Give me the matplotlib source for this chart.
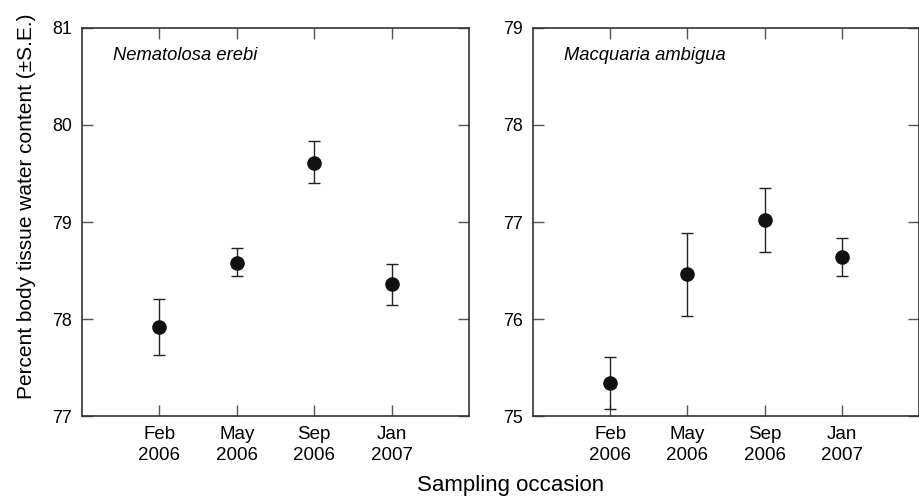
import matplotlib
matplotlib.use("Agg")
import matplotlib.pyplot as plt
import numpy as np

plt.rcParams['font.family'] = ['Liberation Sans', 'DejaVu Sans']

# Datas de amostragem
ocasioes = ["Feb\n2006", "May\n2006", "Sep\n2006", "Jan\n2007"]
posicoes = [1, 2, 3, 4]

# Nematolosa erebi
nem_media = [77.92, 78.58, 79.61, 78.36]
nem_sup = [78.21, 78.73, 79.83, 78.57]
nem_inf = [77.63, 78.44, 79.40, 78.14]

# Macquaria ambigua
mac_media = [75.34, 76.46, 77.02, 76.64]
mac_sup = [75.61, 76.89, 77.35, 76.83]
mac_inf = [75.07, 76.03, 76.69, 76.44]

COR_PONTO = '#111111'
COR_EIXO = '#333333'


def painel(ax, media, inf, sup, ylim, titulo):
    media = np.array(media)
    yerr = [media - np.array(inf), np.array(sup) - media]
    ax.errorbar(posicoes, media, yerr=yerr, fmt='o', color=COR_PONTO,
                ecolor='#222222', elinewidth=1.0, capsize=4.3, capthick=1.0,
                markersize=9.5, zorder=5)
    ax.set_xlim(0, 5)
    ax.set_ylim(*ylim)
    ax.set_yticks(range(ylim[0], ylim[1] + 1))
    ax.set_xticks(posicoes)
    ax.set_xticklabels(ocasioes)
    ax.tick_params(direction='in', length=8, width=1.0, color='#555555',
                   top=True, right=True)
    ax.tick_params(axis='y', labelsize=12.8, pad=7)
    ax.tick_params(axis='x', labelsize=13.5, pad=7)
    for lab in ax.get_xticklabels():
        lab.set_linespacing(1.3)
    for s in ax.spines.values():
        s.set_linewidth(1.2)
        s.set_color(COR_EIXO)
    ax.text(0.08, 0.93, titulo, transform=ax.transAxes, fontsize=13.2,
            style='italic', ha='left', va='center')


fig = plt.figure(figsize=(9.2, 4.99), dpi=100)
ax1 = fig.add_axes([0.0891, 0.1663, 0.4207, 0.7776])
ax2 = fig.add_axes([0.5793, 0.1663, 0.4196, 0.7776])

painel(ax1, nem_media, nem_inf, nem_sup, (77, 81), "Nematolosa erebi")
painel(ax2, mac_media, mac_inf, mac_sup, (75, 79), "Macquaria ambigua")

fig.text(0.029, 0.587, "Percent body tissue water content (±S.E.)",
         rotation=90, ha='center', va='center', fontsize=15)
fig.text(0.555, 0.027, "Sampling occasion", ha='center', va='center',
         fontsize=16)

fig.savefig("out.png", dpi=100)
plt.close(fig)
